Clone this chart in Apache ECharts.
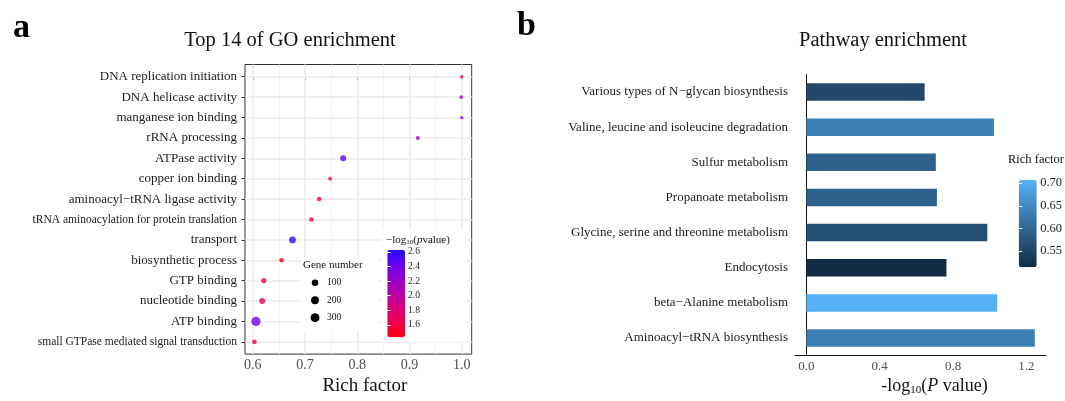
<!DOCTYPE html>
<html>
<head>
<meta charset="utf-8">
<script src="https://cdn.jsdelivr.net/npm/echarts@6/dist/echarts.min.js"></script>
<style>
  html, body { margin: 0; padding: 0; background: #fff; }
  #chart { width: 1065px; height: 401px; }
</style>
</head>
<body>
<div id="chart"></div>
<script>
// ---- panel a: GO enrichment (top to bottom) ----
const goTerms = [
  'DNA replication initiation', 'DNA helicase activity', 'manganese ion binding',
  'rRNA processing', 'ATPase activity', 'copper ion binding',
  'aminoacyl−tRNA ligase activity', 'tRNA aminoacylation for protein translation',
  'transport', 'biosynthetic process', 'GTP binding', 'nucleotide binding',
  'ATP binding', 'small GTPase mediated signal transduction'
];
const goRichFactor = [1.0, 0.999, 1.0, 0.916, 0.773, 0.748, 0.727, 0.712, 0.676, 0.655, 0.621, 0.618, 0.606, 0.603];
const goLogP = [1.78, 2.05, 2.3, 2.22, 2.45, 1.45, 1.72, 1.55, 2.62, 1.5, 1.75, 1.67, 2.38, 1.6];
const goGeneNumber = [5, 6, 5, 10, 75, 7, 22, 22, 110, 22, 42, 72, 336, 22];
const goXTicks = [0.6, 0.7, 0.8, 0.9, 1.0];
const goXMinor = [0.65, 0.75, 0.85, 0.95];
const logPTicks = [1.6, 1.8, 2.0, 2.2, 2.4, 2.6];
const geneLegend = [100, 200, 300];

// ---- panel b: pathway enrichment (top to bottom) ----
const pathways = [
  'Various types of N−glycan biosynthesis', 'Valine, leucine and isoleucine degradation',
  'Sulfur metabolism', 'Propanoate metabolism', 'Glycine, serine and threonine metabolism',
  'Endocytosis', 'beta−Alanine metabolism', 'Aminoacyl−tRNA biosynthesis'
];
const pathwayLogP = [0.645, 1.023, 0.706, 0.712, 0.987, 0.764, 1.041, 1.246];
const pathwayRich = [0.556, 0.635, 0.59, 0.59, 0.566, 0.514, 0.707, 0.635];
const pathXTicks = [0.0, 0.4, 0.8, 1.2];
const richTicks = [0.55, 0.60, 0.65, 0.70];

const FONT = '"Liberation Serif", "DejaVu Serif", serif';
const geneSize = n => 3.3 + 0.33 * Math.sqrt(Math.max(0, n - 5));
const smallLabels = ['tRNA aminoacylation for protein translation', 'small GTPase mediated signal transduction'];

const chart = echarts.init(document.getElementById('chart'));

// panel a grid lines, drawn as mark lines under the points
const gridLines = [
  ...goXTicks.map(x => ({ xAxis: x, lineStyle: { color: '#ebebeb', width: 1.5, type: 'solid' } })),
  ...goXMinor.map(x => ({ xAxis: x, lineStyle: { color: '#f2f2f2', width: 1, type: 'solid' } })),
  ...goTerms.map((t, i) => ({ yAxis: i, lineStyle: { color: '#ebebeb', width: 1.5, type: 'solid' } }))
];

const option = {
  animation: false,
  backgroundColor: '#fff',
  textStyle: { fontFamily: FONT },
  grid: [
    { left: 245, top: 64.5, width: 226.7, height: 295, show: true, borderColor: '#333', borderWidth: 1, backgroundColor: 'transparent', z: 0 },
    { left: 387.3, top: 249.7, width: 17.7, height: 87.6 },
    { left: 795, top: 74.5, width: 251, height: 286.5 },
    { left: 1018.7, top: 180, width: 18, height: 87.3 }
  ],
  xAxis: [
    {
      gridIndex: 0, type: 'value', min: 0.585, max: 1.019,
      axisLine: { show: false },
      splitLine: { show: false },
      axisTick: { customValues: goXTicks, length: 3.5, lineStyle: { color: '#333' } },
      axisLabel: { customValues: goXTicks, formatter: v => v.toFixed(1), color: '#4d4d4d', fontSize: 14, margin: 4, fontFamily: FONT },
      name: 'Rich factor', nameLocation: 'middle', nameGap: 22,
      nameTextStyle: { fontSize: 19, color: '#111', fontFamily: FONT, padding: [0, 0, 0, 13] }
    },
    { gridIndex: 1, type: 'value', show: false, min: 0, max: 1 },
    {
      gridIndex: 2, type: 'value', min: -0.062, max: 1.307,
      axisLine: { show: true, lineStyle: { color: '#111', width: 1 } },
      splitLine: { show: false },
      axisTick: { customValues: pathXTicks, length: 3.5, lineStyle: { color: '#111' } },
      axisLabel: { customValues: pathXTicks, formatter: v => v.toFixed(1), color: '#4d4d4d', fontSize: 13, margin: 4, fontFamily: FONT },
      name: '-log{sub|10}({i|P} value)', nameLocation: 'middle', nameGap: 14,
      nameTextStyle: {
        fontSize: 18, color: '#111', fontFamily: FONT, padding: [0, 0, 0, 28],
        rich: {
          sub: { fontSize: 11, fontFamily: FONT, color: '#111', padding: [8, 0, 0, 0] },
          i: { fontSize: 18, fontStyle: 'italic', fontFamily: FONT, color: '#111' }
        }
      }
    },
    { gridIndex: 3, type: 'value', show: false, min: 0, max: 1 }
  ],
  yAxis: [
    {
      gridIndex: 0, type: 'value', min: -0.6, max: 13.6, inverse: true,
      axisLine: { show: false },
      splitLine: { show: false },
      axisTick: { customValues: goTerms.map((t, i) => i), length: 3.5, lineStyle: { color: '#333' } },
      axisLabel: {
        customValues: goTerms.map((t, i) => i),
        formatter: v => {
          const name = goTerms[Math.round(v)];
          return smallLabels.includes(name) ? '{s|' + name + '}' : '{n|' + name + '}';
        },
        margin: 8,
        rich: {
          n: { fontSize: 13, color: '#1a1a1a', fontFamily: FONT },
          s: { fontSize: 11.5, color: '#1a1a1a', fontFamily: FONT }
        }
      }
    },
    {
      gridIndex: 1, type: 'value', min: 1.43, max: 2.63, position: 'right', z: 6,
      axisLine: { show: false }, splitLine: { show: false },
      axisTick: { customValues: logPTicks, inside: true, length: 3.5, lineStyle: { color: '#fff', width: 1 } },
      axisLabel: { customValues: logPTicks, formatter: v => v.toFixed(1), fontSize: 9.5, color: '#222', margin: 3, fontFamily: FONT }
    },
    {
      gridIndex: 1, type: 'value', min: 1.43, max: 2.63, position: 'left', z: 6,
      axisLine: { show: false }, splitLine: { show: false }, axisLabel: { show: false },
      axisTick: { customValues: logPTicks, inside: true, length: 3.5, lineStyle: { color: '#fff', width: 1 } }
    },
    {
      gridIndex: 2, type: 'category', data: pathways, inverse: true,
      axisLine: { show: true, lineStyle: { color: '#111', width: 1 } },
      axisTick: { alignWithLabel: true, length: 3.5, lineStyle: { color: '#111' } },
      axisLabel: { fontSize: 13, color: '#1a1a1a', margin: 7, fontFamily: FONT }
    },
    {
      gridIndex: 3, type: 'value', min: 0.514, max: 0.707, position: 'right', z: 6,
      axisLine: { show: false }, splitLine: { show: false },
      axisTick: { customValues: richTicks, inside: true, length: 3.5, lineStyle: { color: '#fff', width: 1 } },
      axisLabel: { customValues: richTicks, formatter: v => v.toFixed(2), fontSize: 12.5, color: '#222', margin: 4, fontFamily: FONT }
    },
    {
      gridIndex: 3, type: 'value', min: 0.514, max: 0.707, position: 'left', z: 6,
      axisLine: { show: false }, splitLine: { show: false }, axisLabel: { show: false },
      axisTick: { customValues: richTicks, inside: true, length: 3.5, lineStyle: { color: '#fff', width: 1 } }
    }
  ],
  visualMap: [
    {
      type: 'continuous', seriesIndex: 1, dimension: 2, z: 4,
      min: 1.43, max: 2.63, calculable: false, hoverLink: false,
      orient: 'vertical', left: 387.3, top: 249.7, padding: 0,
      itemWidth: 17.7, itemHeight: 87.6, text: null, showLabel: false,
      inRange: { color: ['#ff0012', '#f0004a', '#d8007a', '#b800a6', '#9200cc', '#6a00ee', '#1e10ff'] }
    },
    {
      type: 'continuous', seriesIndex: 2, dimension: 2, z: 4,
      min: 0.514, max: 0.707, calculable: false, hoverLink: false,
      orient: 'vertical', left: 1018.7, top: 180, padding: 0,
      itemWidth: 18, itemHeight: 87.3, text: null, showLabel: false,
      inRange: { color: ['#132B43', '#56B1F7'] }
    }
  ],
  series: [
    {
      type: 'line', xAxisIndex: 0, yAxisIndex: 0, data: [], z: 1, silent: true,
      markLine: { z: 1, silent: true, symbol: 'none', label: { show: false }, animation: false, data: gridLines }
    },
    {
      type: 'scatter', xAxisIndex: 0, yAxisIndex: 0, z: 3,
      data: goTerms.map((t, i) => [goRichFactor[i], i, goLogP[i], goGeneNumber[i]]),
      symbolSize: v => geneSize(v[3])
    },
    {
      type: 'bar', xAxisIndex: 2, yAxisIndex: 3, barWidth: 17.5,
      encode: { x: 0, y: 1 },
      data: pathways.map((p, i) => [pathwayLogP[i], p, pathwayRich[i]])
    }
  ],
  graphic: [
    { type: 'text', x: 13, y: 28, style: { text: 'a', font: 'bold 34px ' + FONT, fill: '#000', verticalAlign: 'middle' } },
    { type: 'text', x: 517, y: 26, style: { text: 'b', font: 'bold 34px ' + FONT, fill: '#000', verticalAlign: 'middle' } },
    { type: 'text', x: 290, y: 41, style: { text: 'Top 14 of GO enrichment', font: '20.5px ' + FONT, fill: '#111', align: 'center', verticalAlign: 'middle' } },
    { type: 'text', x: 883, y: 41, style: { text: 'Pathway enrichment', font: '20.5px ' + FONT, fill: '#111', align: 'center', verticalAlign: 'middle' } },
    // legend backgrounds inside panel a
    { type: 'rect', z: 2, shape: { x: 301, y: 257, width: 77, height: 75 }, style: { fill: '#fff' } },
    { type: 'rect', z: 2, shape: { x: 381, y: 228, width: 85, height: 114 }, style: { fill: '#fff' } },
    { type: 'text', z: 5, x: 303, y: 265, style: { text: 'Gene number', font: '11px ' + FONT, fill: '#111', verticalAlign: 'middle' } },
    ...geneLegend.map((n, i) => ({
      type: 'circle', z: 5, shape: { cx: 315, cy: 282.7 + i * 17.5, r: geneSize(n) / 2 }, style: { fill: '#000' }
    })),
    ...geneLegend.map((n, i) => ({
      type: 'text', z: 5, x: 327, y: 282.7 + i * 17.5, style: { text: String(n), font: '9.5px ' + FONT, fill: '#111', verticalAlign: 'middle' }
    })),
    {
      type: 'text', z: 5, x: 386, y: 240,
      style: {
        text: '−log{s|10}({i|p}value)', font: '11px ' + FONT, fill: '#111', verticalAlign: 'middle',
        rich: { s: { fontSize: 7, fontFamily: FONT, fill: '#111', padding: [4, 0, 0, 0] }, i: { fontSize: 11, fontStyle: 'italic', fontFamily: FONT, fill: '#111' } }
      }
    },
    { type: 'text', z: 5, x: 1008, y: 160, style: { text: 'Rich factor', font: '12.5px ' + FONT, fill: '#111', verticalAlign: 'middle' } }
  ]
};

chart.setOption(option);
</script>
</body>
</html>
